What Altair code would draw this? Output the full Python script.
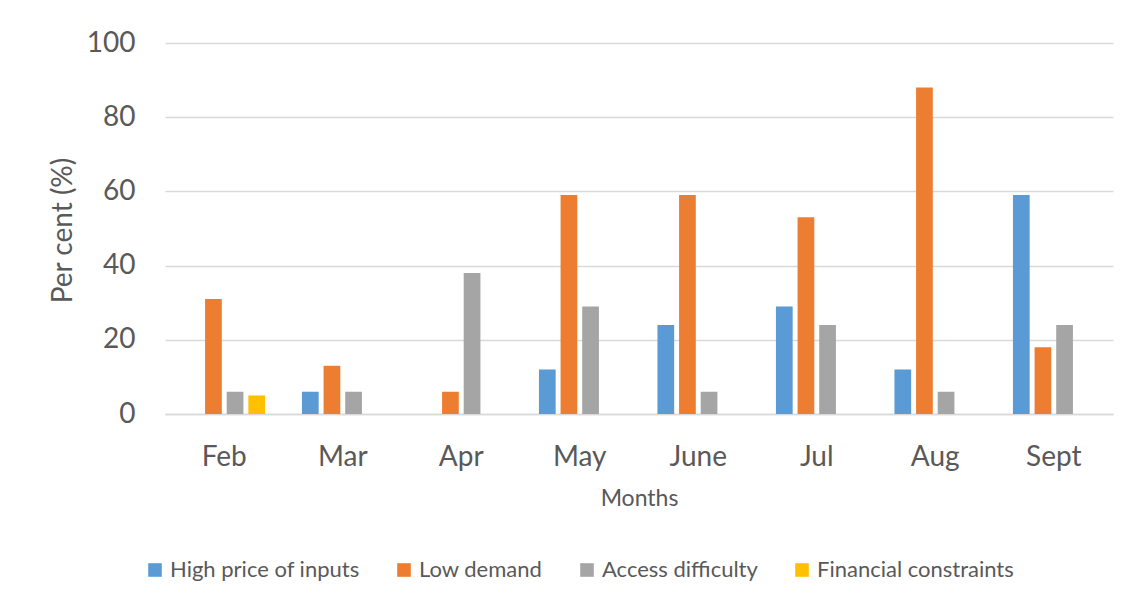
import altair as alt
import pandas as pd

months = ["Feb", "Mar", "Apr", "May", "June", "Jul", "Aug", "Sept"]
series = ["High price of inputs", "Low demand", "Access difficulty", "Financial constraints"]
high_price = [0, 6, 0, 12, 24, 29, 12, 59]
low_demand = [31, 13, 6, 59, 59, 53, 88, 18]
access = [6, 6, 38, 29, 6, 24, 6, 24]
financial = [5, 0, 0, 0, 0, 0, 0, 0]
colors = ["#5B9BD5", "#ED7D31", "#A5A5A5", "#FFC000"]

rows = []
for s, vals in zip(series, [high_price, low_demand, access, financial]):
    for m, v in zip(months, vals):
        rows.append({"Month": m, "Series": s, "Value": v})
df = pd.DataFrame(rows)

FONT = "Lato"
TXT = "#595959"

chart = alt.Chart(df).mark_bar().encode(
    x=alt.X("Month:N", sort=months,
            scale=alt.Scale(paddingInner=0.27, paddingOuter=0.135),
            axis=alt.Axis(title="Months", labelAngle=0, labelFontSize=28, labelPadding=29,
                          titleFontSize=23, titleFontWeight="normal", titlePadding=16,
                          ticks=False, domainColor="#D9D9D9", domainWidth=1.5,
                          labelColor=TXT, titleColor=TXT)),
    xOffset=alt.XOffset("Series:N", sort=series,
                        scale=alt.Scale(domain=series, paddingInner=0.227, paddingOuter=0.113)),
    y=alt.Y("Value:Q", scale=alt.Scale(domain=[0, 100]),
            axis=alt.Axis(title="Per cent (%)", values=[0, 20, 40, 60, 80, 100],
                          labelFontSize=28, labelPadding=30, titleFontSize=28,
                          titleFontWeight="normal", ticks=False, domain=False,
                          gridColor="#D9D9D9", gridWidth=1.5,
                          titleX=-88, titleY=187, titleAngle=-90,
                          labelColor=TXT, titleColor=TXT)),
    color=alt.Color("Series:N", sort=series,
                    scale=alt.Scale(domain=series, range=colors),
                    legend=alt.Legend(title=None, orient="none", direction="horizontal",
                                      legendX=-21, legendY=516, symbolType="square",
                                      symbolSize=185, symbolStrokeWidth=0,
                                      labelFontSize=22, labelColor=TXT, labelLimit=0,
                                      columnPadding=33, labelOffset=4)),
).transform_filter(
    alt.datum.Value > 0
).properties(
    width=948, height=371,
    autosize=alt.AutoSizeParams(type="none"),
    padding={"left": 157, "top": 35, "right": 5, "bottom": 180},
).configure(font=FONT).configure_view(stroke=None)

chart.save("out.html", embed_options={"renderer": "svg", "actions": False})
